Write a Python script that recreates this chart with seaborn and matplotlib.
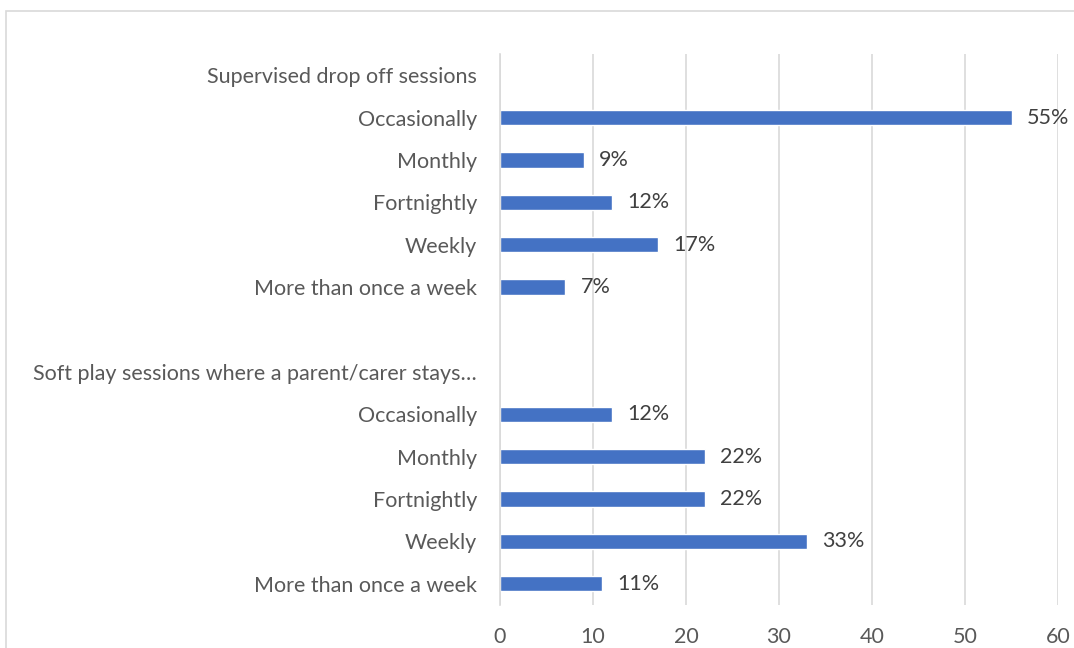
import numpy as np
import pandas as pd
import seaborn as sns
import matplotlib.pyplot as plt
from matplotlib.patches import Rectangle

# Row labels from top to bottom (group headers and a spacer row carry no bar)
row_labels = [
    "Supervised drop off sessions",
    "Occasionally",
    "Monthly",
    "Fortnightly",
    "Weekly",
    "More than once a week",
    "",
    "Soft play sessions where a parent/carer stays\u2026",
    "Occasionally",
    "Monthly",
    "Fortnightly",
    "Weekly",
    "More than once a week",
]
percent_values = [np.nan, 55, 9, 12, 17, 7, np.nan, np.nan, 12, 22, 22, 33, 11]
x_ticks = [0, 10, 20, 30, 40, 50, 60]

row_keys = [f"r{i}" for i in range(len(row_labels))]
df = pd.DataFrame({"key": row_keys, "value": percent_values})

sns.set_style("white")
plt.rcParams["font.family"] = ["Lato", "DejaVu Sans"]

fig = plt.figure(figsize=(10.74, 6.48), dpi=100)
ax = fig.add_axes([500 / 1074, 1 - 605 / 648, 558 / 1074, 551 / 648])

sns.barplot(data=df.dropna(), x="value", y="key", order=row_keys, orient="h",
            color="#4472C4", saturation=1, width=0.36, ax=ax, zorder=3)

ax.set_xlim(0, 60)
ax.set_ylim(len(row_keys) - 0.5, -0.5)
ax.set_xticks(x_ticks)
ax.set_xticklabels([str(t) for t in x_ticks])
ax.set_yticks(range(len(row_labels)))
ax.set_yticklabels(row_labels)
ax.set_xlabel("")
ax.set_ylabel("")
ax.tick_params(axis="both", length=0, labelsize=15.5, colors="#595959")
ax.tick_params(axis="y", pad=16.5)
ax.tick_params(axis="x", pad=16)

ax.xaxis.grid(True, color="#D9D9D9", linewidth=1.2, zorder=0)
ax.yaxis.grid(False)
for side in ["top", "right", "bottom"]:
    ax.spines[side].set_visible(False)
ax.spines["left"].set_color("#D9D9D9")
ax.spines["left"].set_linewidth(1.2)
ax.spines["left"].set_zorder(4)

# Value labels beside each bar
for i, v in enumerate(percent_values):
    if not np.isnan(v):
        ax.annotate(f"{v:.0f}%", xy=(v, i), xytext=(11, 0), textcoords="offset points",
                    va="center", ha="left", fontsize=15.5, color="#404040")

# Light chart frame
fig.patches.append(Rectangle((6 / 1074, -0.1), 1.2, 1 - 11 / 648 + 0.1,
                             transform=fig.transFigure, fill=False,
                             edgecolor="#D9D9D9", linewidth=1.2))

fig.savefig("out.png", dpi=100)
